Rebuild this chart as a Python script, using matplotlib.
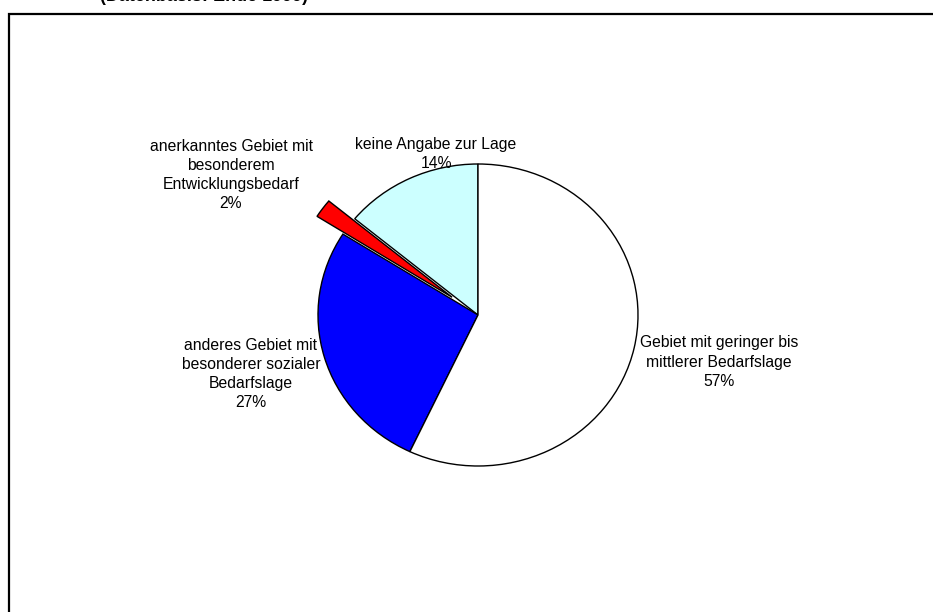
import matplotlib
matplotlib.use("Agg")
import matplotlib.pyplot as plt
from matplotlib.patches import Rectangle

plt.rcParams['font.family'] = ['Liberation Sans', 'DejaVu Sans']

categories = [
    "keine Angabe zur Lage",
    "anerkanntes Gebiet mit\nbesonderem\nEntwicklungsbedarf",
    "anderes Gebiet mit\nbesonderer sozialer\nBedarfslage",
    "Gebiet mit geringer bis\nmittlerer Bedarfslage",
]
values = [14, 2, 27, 57]
colors = ["#CCFFFF", "#FF0000", "#0000FF", "#FFFFFF"]
explode = [0, 0.2, 0, 0]
title = "(Datenbasis: Ende 1999)"

W, H = 933, 612
fig = plt.figure(figsize=(W / 100, H / 100), dpi=100)

# pie geometry in pixels
cx, cy, rx, ry = 478, 315, 160, 151
ax = fig.add_axes([(cx - rx) / W, 1 - (cy + ry) / H, 2 * rx / W, 2 * ry / H])
wedges, _ = ax.pie(values, colors=colors, explode=explode, startangle=90,
                   counterclock=True,
                   wedgeprops=dict(edgecolor="black", linewidth=1.0))
ax.set_aspect('auto')
ax.set_xlim(-1, 1)
ax.set_ylim(-1, 1)
ax.axis('off')
for w in wedges:
    w.set_clip_on(False)

# label positions (pixel centers of text blocks)
label_pos = [(436, 154), (231, 175), (251, 374), (719, 362)]
for cat, v, (px, py) in zip(categories, values, label_pos):
    ax.text((px - cx) / rx, (cy - py) / ry, f"{cat}\n{v}%",
            ha='center', va='center', fontsize=11.3, linespacing=1.36,
            clip_on=False)

# outer frame (partially cropped)
fig.add_artist(Rectangle((8.5 / W, -0.2), 1.2, 1.2 - 13.5 / H,
                         transform=fig.transFigure, fill=False,
                         edgecolor='black', linewidth=1.6))

# cropped title
fig.text(204 / W, 1 - 1 / H, title, ha='center', va='baseline',
         fontsize=13, fontweight='bold')

fig.savefig("out.png", dpi=100)
